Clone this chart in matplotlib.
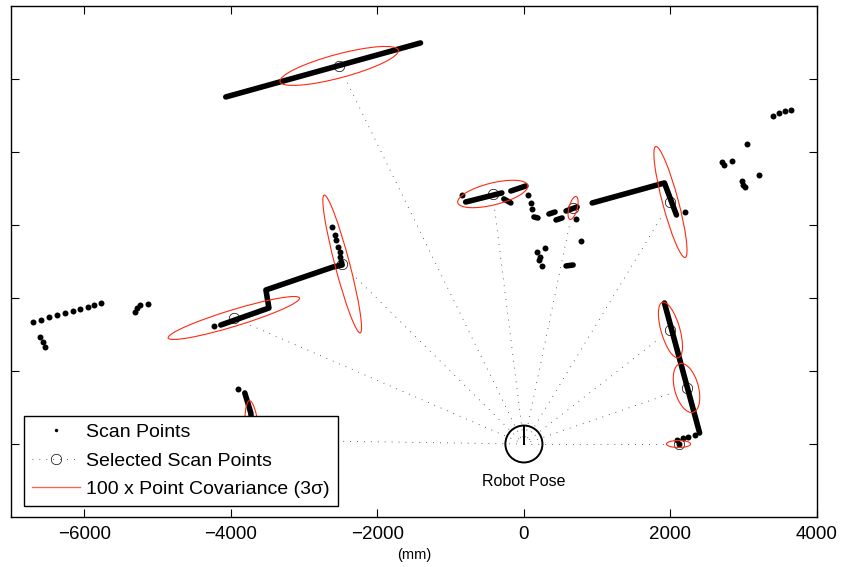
# Scan points, selected points and their covariance ellipses around the robot pose
import numpy as np
import matplotlib.pyplot as plt
from matplotlib.patches import Ellipse, Circle
from matplotlib.lines import Line2D

nan = np.nan

# dense wall segments (mm), NaN separates segments
wall_x = [-4069, -1411, nan,
          -2480, -2603, -3521, -3480, -4137, nan,
          -795, -301, nan, -274, -178, nan, -178, 27, nan,
          137, 192, nan, 342, 425, nan, 438, 521, nan, 575, 726, nan,
          575, 671, nan,
          932, 1918, 2082, nan,
          1918, 2398, nan,
          -3809, -3727, -3700]
wall_y = [4754, 5494, nan,
          2452, 2425, 2110, 1863, 1630, nan,
          3315, 3439, nan, 3357, 3302, nan, 3466, 3535, nan,
          3110, 3096, nan, 3151, 3178, nan, 3069, 3096, nan, 3192, 3247, nan,
          2439, 2452, nan,
          3302, 3576, 3137, nan,
          1932, 151, nan,
          699, 425, 100]

# isolated scan points (mm)
dot_x = [-2617, -2576, -2562, -2535, -2507, -2507, -2493, -4233,
         -849, 55, 96, 110, 712, 781, 178, 288, 219, 206, 247,
         2192, 3398, 3480, 3562, 3644, 3041, 2699, 2726, 2836, 2973, 2987, 3014, 3206,
         -6699, -6590, -6480, -6371, -6261, -6151, -6055, -5946, -5864, -5768,
         -6603, -6562, -6535, -5302, -5275, -5233, -5124,
         -3905, 2329, 2233, 2165, 2096, 2110]
dot_y = [2973, 2863, 2795, 2699, 2630, 2562, 2493, 1617,
         3411, 3411, 3302, 3220, 3083, 2781, 2630, 2685, 2562, 2521, 2439,
         3178, 4494, 4535, 4562, 4576, 4110, 3863, 3822, 3877, 3603, 3548, 3521, 3685,
         1671, 1699, 1740, 1767, 1795, 1822, 1850, 1877, 1904, 1932,
         1466, 1397, 1329, 1808, 1863, 1904, 1918,
         754, 123, 96, 82, 55, 0]

# selected scan points and 100x covariance ellipses (3 sigma), mm / deg
sel_x = [-2521, -2480, -3959, -3699, -425, 671, 2000, 2000, 2219, 2110]
sel_y = [5179, 2466, 1726, 55, 3425, 3233, 3315, 1562, 767, 0]
ell_a = [836, 975, 937, 540, 492, 162, 786, 396, 345, 164]
ell_b = [162, 100, 113, 100, 150, 56, 108, 128, 163, 48]
ell_ang = [15, 104.6, 17, 95, 14, 75, 104.8, 106, 105, 0]

robot_r = 253
ray_gap = 200

plt.rcParams['font.family'] = ['Liberation Sans', 'DejaVu Sans']

fig = plt.figure(figsize=(8.42, 5.67), dpi=100)
ax = fig.add_axes([11/842, 50/567, 806/842, 511/567])

ax.plot(wall_x, wall_y, '-', color='k', lw=4.0,
        solid_capstyle='round', solid_joinstyle='round', zorder=2)
ax.plot(dot_x, dot_y, 'o', color='k', ms=4.3, mew=0, zorder=2)

for x, y in zip(sel_x, sel_y):
    r = np.hypot(x, y)
    k = (r - ray_gap) / r
    ax.plot([0, x*k], [0, y*k], color='0.2', lw=0.6, ls=(0, (1, 7.3)), zorder=3)
ax.plot(sel_x, sel_y, 'o', mfc='none', mec='k', ms=7.5, mew=0.5, zorder=4)

for x, y, a, b, ang in zip(sel_x, sel_y, ell_a, ell_b, ell_ang):
    ax.add_patch(Ellipse((x, y), 2*a, 2*b, angle=ang, fill=False,
                         ec='#ff2a10', lw=0.8, zorder=5))

ax.add_patch(Circle((0, 0), robot_r, fill=False, ec='k', lw=1.4, zorder=6))
ax.plot([0, 0], [0, robot_r], color='k', lw=1.4, zorder=6)
ax.text(0, -510, 'Robot Pose', ha='center', va='center', fontsize=11.5)

ax.set_xlim(-7000, 4000)
ax.set_ylim(-1000, 6000)
ax.set_xticks(np.arange(-6000, 4001, 2000))
ax.set_yticks(np.arange(0, 5001, 1000))
ax.set_yticklabels([])
ax.tick_params(direction='in', top=True, right=True, length=5.8, width=0.8,
               labelsize=13.5, pad=6.5)
for s in ax.spines.values():
    s.set_linewidth(1.0)
ax.set_xlabel('(mm)', fontsize=10.5, labelpad=3.5)

handles = [
    Line2D([], [], ls='none', marker='o', color='k', ms=2.5, mew=0),
    Line2D([], [], ls=(0, (1, 7.3)), lw=0.6, color='0.2', marker='o',
           mfc='none', mec='k', ms=7.5, mew=0.5),
    Line2D([], [], color='#f46a55', lw=1.0),
]
labels = ['Scan Points', 'Selected Scan Points', '100 x Point Covariance (3\u03c3)']
leg = ax.legend(handles, labels, loc='lower left', bbox_to_anchor=(0.0161, 0.0215),
                borderaxespad=0, fontsize=14, fancybox=False, framealpha=1,
                edgecolor='k', handlelength=2.5, handletextpad=0.3,
                labelspacing=0.56, borderpad=0.4)
leg.get_frame().set_linewidth(1.0)
leg.set_zorder(10)

fig.savefig('out.png', dpi=100)
